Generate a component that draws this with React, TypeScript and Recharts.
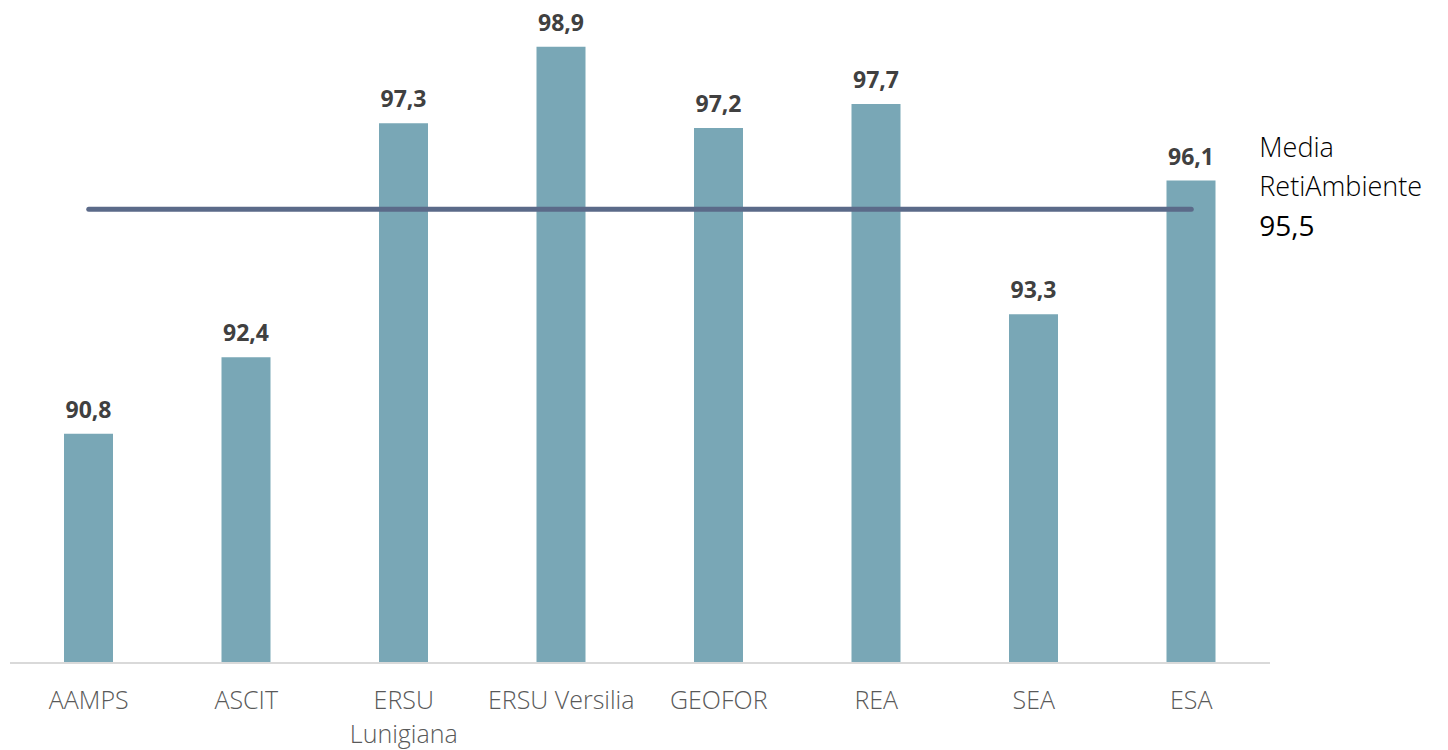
import * as React from 'react';
import { ComposedChart, Bar, Line, XAxis, YAxis, LabelList } from 'recharts';

const categories = ['AAMPS', 'ASCIT', 'ERSU Lunigiana', 'ERSU Versilia', 'GEOFOR', 'REA', 'SEA', 'ESA'];
const tickLines = [['AAMPS'], ['ASCIT'], ['ERSU', 'Lunigiana'], ['ERSU Versilia'], ['GEOFOR'], ['REA'], ['SEA'], ['ESA']];
const values = [90.8, 92.4, 97.3, 98.9, 97.2, 97.7, 93.3, 96.1];
const media = 95.5;
const mediaLabel = ['Media', 'RetiAmbiente'];

const data = categories.map((name, i) => ({ name, value: values[i], media }));

const fmt = (v: number) => v.toFixed(1).replace('.', ',');

const FONT = '"Open Sans", sans-serif';

function CategoryTick(props: any) {
  const { x, y, index } = props;
  const lines = tickLines[index] || [];
  return (
    <g>
      {lines.map((l, i) => (
        <text key={i} x={x} y={y + 38 + i * 34} textAnchor="middle" fill="#595959" fontSize={25} fontWeight={300} fontFamily={FONT}>
          {l}
        </text>
      ))}
    </g>
  );
}

function MediaLabel(props: any) {
  const { x, y, index } = props;
  if (index !== data.length - 1) return null;
  return (
    <g fontFamily={FONT}>
      <text x={x + 68} y={y - 52} fontSize={27} fontWeight={300} fill="#000">{mediaLabel[0]}</text>
      <text x={x + 68} y={y - 13} fontSize={27} fontWeight={300} fill="#000">{mediaLabel[1]}</text>
      <text x={x + 68} y={y + 27} fontSize={28} fill="#000">{fmt(media)}</text>
    </g>
  );
}

export default function App() {
  return (
    <div style={{ position: 'absolute', left: 0, top: 0 }}>
      <ComposedChart width={1448} height={750} data={data} margin={{ top: 42, right: 178, left: 10, bottom: 0 }}>
        <XAxis
          dataKey="name"
          height={87}
          interval={0}
          tickLine={false}
          axisLine={{ stroke: '#d9d9d9', strokeWidth: 2 }}
          tick={<CategoryTick />}
        />
        <YAxis hide domain={[86, 99]} />
        <Bar dataKey="value" fill="#79a7b6" barSize={49} isAnimationActive={false}>
          <LabelList
            dataKey="value"
            position="top"
            offset={16}
            formatter={(v: any) => fmt(Number(v))}
            fill="#404040"
            fontSize={23}
            fontWeight="bold"
            fontFamily={FONT}
          />
        </Bar>
        <Line
          dataKey="media"
          stroke="#5b6a89"
          strokeWidth={5}
          strokeLinecap="round"
          dot={false}
          isAnimationActive={false}
        >
          <LabelList dataKey="media" content={<MediaLabel />} />
        </Line>
      </ComposedChart>
    </div>
  );
}
